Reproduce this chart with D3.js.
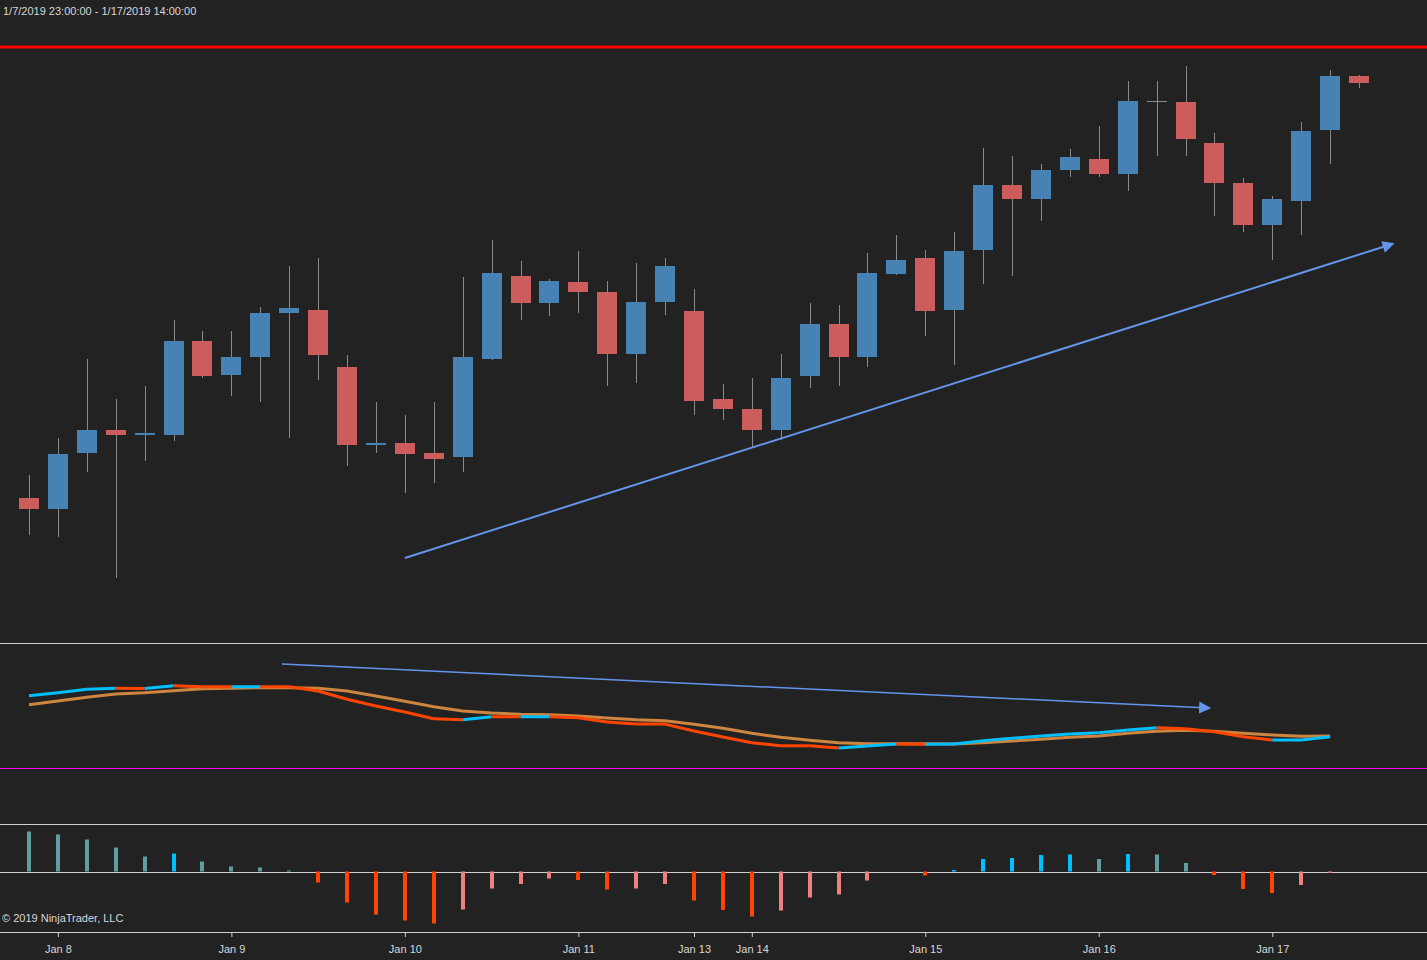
<!DOCTYPE html>
<html>
<head>
<meta charset="utf-8">
<script src="https://cdn.jsdelivr.net/npm/d3@7"></script>
<style>
  body { margin: 0; background: #222222; }
  svg { display: block; }
</style>
</head>
<body>
<div id="chart"></div>
<script>
// 4-hour bars, 1/7/2019 23:00 - 1/17/2019 14:00
var opens  = [150,139,195,218,213,213,307,273,291,335,338,281,203,205,195,191,289,372,345,366,356,294,346,337,249,239,218,272,324,291,374,390,338,398,463,449,478,489,474,547,546,505,465,423,447,518,572];
var highs  = [173,210,289,249,262,328,317,317,341,382,390,293,246,233,246,371,408,387,369,397,367,385,390,359,264,270,294,345,343,395,413,398,416,500,492,484,499,522,567,567,582,515,470,452,526,578,573];
var lows   = [113,111,176,70,187,207,270,252,246,210,268,182,195,155,165,176,288,328,332,335,262,265,333,233,228,200,208,260,262,281,373,312,283,364,372,427,471,471,457,492,492,432,416,388,413,484,560];
var closes = [139,194,218,213,215,307,272,291,335,340,293,203,205,194,189,291,375,345,367,356,294,346,382,247,239,218,270,324,291,375,388,337,397,463,449,478,491,474,547,547,509,465,423,449,517,572,565];

// oscillator panel: fast line, slow line
var fast = [72.3,75.3,78.7,79.7,79.6,82.3,81.3,81.2,81.3,81.2,77,68.7,62,56,49.3,48.3,51.3,51.2,51.3,50.3,46,44,43.9,37,31,25.3,22.3,22.2,20,22,24,23.7,24,27.3,29.7,32,34,35.3,38,40.3,39.3,36.3,31.3,28,28.1,31.3];
var slow = [63.3,67,70.7,74,75.3,77.3,79.3,79.7,80.3,80.3,79.7,77,72,66.7,61.3,57,55,53.7,53.3,52,50,48.3,47.3,43.7,39.7,34.7,30.7,27.7,25.3,24.3,24.3,24.3,24,25.3,27,28.7,30.7,32,34.7,36.7,37.7,36.7,34.7,33,31.7,32];

// histogram panel
var hist = [40,37,32,24,15,18,10,5,4,1,-11,-31,-43,-49,-52,-38,-17,-12.5,-7,-8.5,-18,-17,-12.5,-29,-38.5,-45,-39,-26,-23,-9,0,-4,1.5,12.5,13.5,16.5,17,12.5,17.5,17,8.5,-3.5,-17.5,-21.5,-13.5,-1.5];

// x axis ticks (bar index -> label)
var tickIdx = [1,7,13,19,23,25,31,37,43];
var tickText = ["Jan 8","Jan 9","Jan 10","Jan 11","Jan 13","Jan 14","Jan 15","Jan 16","Jan 17"];

// drawn objects
var redLevel = 601;
var priceTrend = [[13, 90], [47.15, 404]];
var oscTrend = [[8.75, 104], [40.8, 60]];
var oscLevel = 0;

var W = 1427, H = 960;
var svg = d3.select('#chart').append('svg')
  .attr('width', W).attr('height', H)
  .style('background', '#222222')
  .attr('font-family', 'Liberation Sans, Arial, sans-serif');

var defs = svg.append('defs');
defs.append('marker')
  .attr('id', 'arrow')
  .attr('viewBox', '0 0 10 10')
  .attr('refX', 8).attr('refY', 5)
  .attr('markerWidth', 6.5).attr('markerHeight', 6)
  .attr('markerUnits', 'strokeWidth')
  .attr('orient', 'auto')
  .append('path').attr('d', 'M0,0 L10,5 L0,10 Z').attr('fill', '#6495ED');
defs.append('marker')
  .attr('id', 'arrow2')
  .attr('viewBox', '0 0 10 10')
  .attr('refX', 8).attr('refY', 5)
  .attr('markerWidth', 8).attr('markerHeight', 9)
  .attr('markerUnits', 'strokeWidth')
  .attr('orient', 'auto')
  .append('path').attr('d', 'M0,0 L10,5 L0,10 Z').attr('fill', '#6495ED');

var x = d3.scaleLinear().domain([0, 46]).range([29, 1359]);
var y = d3.scaleLinear().domain([0, 600]).range([648, 48]);
var yOsc = d3.scaleLinear().domain([0, 125]).range([768, 643]);
var yHist = d3.scaleLinear().domain([-60.5, 47.5]).range([932, 824]);
var barW = 20;

// title
svg.append('text')
  .attr('x', 3).attr('y', 15)
  .attr('font-size', '11px')
  .attr('fill', '#d8d8d8')
  .text('1/7/2019 23:00:00 - 1/17/2019 14:00:00');

// panel separators
[643, 824, 932].forEach(function (py) {
  svg.append('line')
    .attr('x1', 0).attr('x2', W)
    .attr('y1', py + 0.5).attr('y2', py + 0.5)
    .attr('stroke', '#cfcfcf').attr('stroke-width', 1);
});

// red horizontal line
svg.append('line')
  .attr('x1', 0).attr('x2', W)
  .attr('y1', y(redLevel)).attr('y2', y(redLevel))
  .attr('stroke', '#ff0000').attr('stroke-width', 3);

// candles
var idx = d3.range(opens.length);
svg.selectAll('line.wick')
  .data(idx)
  .enter()
  .append('line')
  .attr('class', 'wick')
  .attr('x1', function (i) { return Math.round(x(i)) + 0.5; })
  .attr('x2', function (i) { return Math.round(x(i)) + 0.5; })
  .attr('y1', function (i) { return y(highs[i]); })
  .attr('y2', function (i) { return y(lows[i]); })
  .attr('stroke', '#8a8a8a').attr('stroke-width', 1);

svg.selectAll('rect.body')
  .data(idx)
  .enter()
  .append('rect')
  .attr('class', 'body')
  .attr('x', function (i) { return Math.round(x(i)) - barW / 2; })
  .attr('y', function (i) { return y(Math.max(opens[i], closes[i])); })
  .attr('width', barW)
  .attr('height', function (i) { return Math.max(1, Math.abs(y(opens[i]) - y(closes[i]))); })
  .attr('fill', function (i) {
    if (closes[i] > opens[i]) return '#4682B4';
    if (closes[i] < opens[i]) return '#CD5C5C';
    return '#8a8a8a';
  });

// price trend line
svg.append('line')
  .attr('x1', x(priceTrend[0][0])).attr('y1', y(priceTrend[0][1]))
  .attr('x2', x(priceTrend[1][0])).attr('y2', y(priceTrend[1][1]))
  .attr('stroke', '#6495ED').attr('stroke-width', 2)
  .attr('marker-end', 'url(#arrow)');

// oscillator panel
svg.append('line')
  .attr('x1', 0).attr('x2', W)
  .attr('y1', Math.round(yOsc(oscLevel)) + 0.5).attr('y2', Math.round(yOsc(oscLevel)) + 0.5)
  .attr('stroke', '#ff00ff').attr('stroke-width', 1)
  .attr('shape-rendering', 'crispEdges');

svg.append('path')
  .datum(slow)
  .attr('d', d3.line().x(function (d, i) { return x(i); }).y(function (d) { return yOsc(d); }))
  .attr('fill', 'none')
  .attr('stroke', '#CD853F')
  .attr('stroke-width', 3);

svg.selectAll('line.fast')
  .data(d3.range(1, fast.length))
  .enter()
  .append('line')
  .attr('class', 'fast')
  .attr('x1', function (i) { return x(i - 1); })
  .attr('y1', function (i) { return yOsc(fast[i - 1]); })
  .attr('x2', function (i) { return x(i); })
  .attr('y2', function (i) { return yOsc(fast[i]); })
  .attr('stroke', function (i) { return fast[i] > fast[i - 1] ? '#00BFFF' : '#FF4500'; })
  .attr('stroke-width', 3);

svg.append('line')
  .attr('x1', x(oscTrend[0][0])).attr('y1', yOsc(oscTrend[0][1]))
  .attr('x2', x(oscTrend[1][0])).attr('y2', yOsc(oscTrend[1][1]))
  .attr('stroke', '#6495ED').attr('stroke-width', 1.5)
  .attr('marker-end', 'url(#arrow2)');

// histogram panel
svg.append('line')
  .attr('x1', 0).attr('x2', W)
  .attr('y1', Math.round(yHist(0)) + 0.5).attr('y2', Math.round(yHist(0)) + 0.5)
  .attr('stroke', '#cfcfcf').attr('stroke-width', 1);

svg.selectAll('rect.hist')
  .data(hist.map(function (v, i) { return i; }))
  .enter()
  .append('rect')
  .attr('class', 'hist')
  .attr('x', function (i) { return Math.round(x(i)) - 2; })
  .attr('y', function (i) { return yHist(Math.max(0, hist[i])); })
  .attr('width', 4)
  .attr('height', function (i) { return Math.abs(yHist(hist[i]) - yHist(0)); })
  .attr('fill', function (i) {
    var prev = i > 0 ? hist[i - 1] : hist[i] + 1;
    if (hist[i] >= 0) return hist[i] > prev ? '#00BFFF' : '#5F9EA0';
    return hist[i] < prev ? '#FF4500' : '#F08080';
  });

svg.append('text')
  .attr('x', 2).attr('y', 922)
  .attr('font-size', '11px')
  .attr('fill', '#d8d8d8')
  .text('\u00A9 2019 NinjaTrader, LLC');

// x axis
var xAxis = d3.axisBottom(x)
  .tickValues(tickIdx)
  .tickFormat(function (d) { return tickText[tickIdx.indexOf(d)]; })
  .tickSize(5)
  .tickPadding(8);
var gx = svg.append('g')
  .attr('transform', 'translate(0,932)')
  .call(xAxis);
gx.select('.domain').remove();
gx.selectAll('line').attr('stroke', '#cfcfcf');
gx.selectAll('text')
  .attr('fill', '#d8d8d8')
  .attr('font-size', '11px')
  .attr('font-family', 'Liberation Sans, Arial, sans-serif');
</script>
</body>
</html>
